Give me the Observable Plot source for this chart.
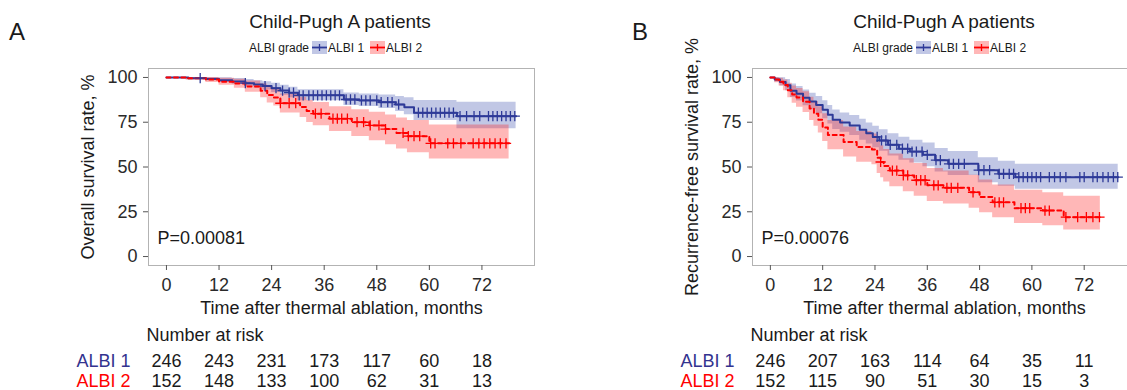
<!DOCTYPE html>
<html><head><meta charset="utf-8">
<script src="https://cdn.jsdelivr.net/npm/d3@7"></script>
<script src="https://cdn.jsdelivr.net/npm/@observablehq/plot@0.6"></script>
<style>
body{margin:0;background:#fff;overflow:hidden;}
#wrap{position:relative;width:1127px;height:390px;overflow:hidden;font-family:"Liberation Sans",Arial,sans-serif;color:#1a1a1a;background:#fff;}
.abs{position:absolute;white-space:nowrap;line-height:1;}
.leg{display:flex;align-items:center;font-size:12px;}
.leg svg{display:block;margin:0 1px 0 3px;}
</style></head><body><div id="wrap"></div>
<script>
// ---------- shared ----------
const xTicks = [0, 12, 24, 36, 48, 60, 72];
const yTicks = [0, 25, 50, 75, 100];
const groups = ["ALBI 1", "ALBI 2"];
const colors = ["#2e3a98", "#ff0000"];
const bandColors = ["#3344aa", "#ff2020"];

// ---------- Panel A: overall survival ----------
const osA1_t  = [0, 5, 9, 12, 15, 18, 20, 22, 24, 26, 28, 30, 40.5, 44, 48.5, 52.3, 54.3, 56.5, 66.3];
const osA1_s  = [100, 99.6, 99.2, 98.5, 97.8, 96.8, 96.0, 95.2, 94.0, 92.7, 91.5, 90.0, 87.7, 87.2, 86.2, 84.9, 83.4, 80.3, 78.4];
const osA1_lo = [100, 98.8, 98.2, 97.2, 96.2, 95.0, 94.0, 93.0, 91.6, 90.0, 88.6, 87.0, 84.4, 83.8, 82.6, 81.0, 79.2, 76.0, 71.3];
const osA1_hi = [100, 100, 100, 99.8, 99.4, 98.8, 98.2, 97.6, 96.8, 95.6, 94.6, 93.2, 91.3, 90.8, 90.2, 89.4, 88.6, 87.2, 86.2];
const osA1_end = 79.8;
const osA1_cens = [7.7, 18, 22.5, 25, 26.5, 28, 29, 30.3, 31.2, 32.5, 33.5, 34.5, 35.5, 36.5, 37.5, 38.5, 39.5, 41, 42, 43, 44.5, 45.5, 46.5, 48, 49, 50.5, 51.5, 53, 57.5, 58.5, 59.5, 60.5, 61.5, 62.5, 63.5, 64.5, 65.5, 67, 68.5, 70.2, 71.5, 73.5, 74.5, 75.5, 76.5, 77.5, 78.5, 79.5];

const osA2_t  = [0, 4.5, 9, 12, 15.5, 18, 21.5, 23, 24.5, 26, 30.5, 32, 33.5, 37.2, 42.3, 46.3, 50, 52.5, 55, 60];
const osA2_s  = [100, 99.5, 98.8, 97.6, 96.6, 95.0, 92.6, 90.2, 88.8, 85.6, 83.5, 81.2, 79.8, 77.0, 75.0, 73.2, 71.2, 69.0, 67.2, 63.2];
const osA2_lo = [100, 98.5, 97.2, 95.6, 94.0, 91.8, 88.6, 85.8, 84.0, 80.2, 77.6, 74.8, 73.0, 69.8, 67.0, 64.6, 62.4, 60.0, 58.0, 54.5];
const osA2_hi = [100, 100, 100, 99.6, 99.0, 98.0, 96.4, 94.6, 93.4, 90.8, 89.0, 87.2, 86.0, 83.6, 82.0, 80.6, 79.0, 77.4, 76.0, 73.5];
const osA2_end = 78.2;
const osA2_cens = [26, 28, 29.5, 34, 35.3, 38, 39, 40, 41.3, 43.5, 45, 46.5, 48.5, 50, 54, 55.2, 56.5, 57.8, 60.3, 61.3, 64.2, 65.5, 67.2, 70, 71.3, 72.5, 73.8, 75, 76.2, 77.5];

const riskA1 = [246, 243, 231, 173, 117, 60, 18];
const riskA2 = [152, 148, 133, 100, 62, 31, 13];

// ---------- Panel B: recurrence-free survival ----------
const rfsB1_t  = [0, 1, 2.2, 3.5, 4.6, 6, 7.5, 9, 10.5, 12, 13.2, 14.3, 16, 18.2, 20.5, 22, 23.5, 25, 27, 29.5, 32, 35, 37.8, 40.8, 47.7, 52.3, 56.2];
const rfsB1_s  = [100, 98.8, 97.4, 95.6, 92.6, 90.9, 88.6, 86.6, 84.6, 82.0, 79.2, 76.4, 74.8, 73.2, 70.8, 68.8, 66.8, 64.8, 62.4, 60.2, 58.6, 56.8, 53.8, 51.8, 48.2, 46.2, 44.3];
const rfsB1_lo = [100, 97.4, 95.2, 92.6, 88.8, 86.8, 84.2, 82.0, 79.8, 77.0, 74.0, 71.0, 69.4, 67.6, 65.0, 62.8, 60.8, 58.8, 56.2, 53.8, 52.2, 50.2, 47.2, 45.2, 41.2, 39.2, 37.6];
const rfsB1_hi = [100, 100, 99.8, 98.8, 96.4, 95.0, 93.0, 91.2, 89.4, 87.0, 84.4, 81.8, 80.2, 78.8, 76.6, 74.6, 72.8, 70.8, 68.6, 66.6, 65.0, 63.4, 60.4, 58.6, 55.2, 53.2, 51.6];
const rfsB1_end = 79.8;
const rfsB1_cens = [24.5, 25.5, 26.5, 27.5, 29, 30.3, 31.5, 32.5, 33.5, 34.8, 36, 38, 39, 41, 42, 43.2, 44.5, 47.8, 49, 50.3, 52.5, 53.5, 54.8, 55.8, 57, 58, 59, 60, 61, 62, 64, 65.2, 66.5, 67.8, 71, 72, 74, 75, 76.3, 77.5, 78.7, 79.7];

const rfsB2_t  = [0, 1, 2, 3, 4, 5, 6, 7.5, 9, 10, 11, 12, 13.2, 16.8, 19.8, 23.3, 24.5, 25.3, 26, 27.4, 30.5, 33, 36, 39.7, 45.6, 48, 51, 56, 62.5, 67.3];
const rfsB2_s  = [100, 98.8, 97.6, 95.8, 92.8, 90.5, 88.8, 86.4, 82.6, 79.8, 76.4, 72.0, 67.8, 64.0, 61.2, 59.8, 55.2, 52.8, 50.6, 48.0, 45.3, 42.6, 39.8, 38.4, 35.9, 33.2, 30.3, 27.0, 25.7, 22.0];
const rfsB2_lo = [100, 97.0, 95.2, 92.6, 88.6, 85.6, 83.4, 80.4, 76.0, 72.8, 69.0, 64.2, 59.6, 55.6, 52.6, 51.2, 46.4, 44.0, 41.6, 39.0, 36.2, 33.6, 30.8, 29.4, 27.0, 24.4, 21.6, 18.4, 17.2, 14.8];
const rfsB2_hi = [100, 100, 99.6, 98.6, 96.8, 95.2, 93.8, 92.0, 89.0, 86.6, 83.6, 79.8, 76.0, 72.4, 69.8, 68.4, 64.2, 61.8, 59.8, 57.2, 54.6, 52.0, 49.2, 47.8, 45.4, 42.8, 40.0, 37.0, 35.6, 33.6];
const rfsB2_end = 75.7;
const rfsB2_cens = [25.3, 28, 29, 30.5, 31.5, 33.5, 34.5, 35.5, 37.5, 38.5, 40.5, 41.5, 43, 46.5, 51.5, 52.5, 53.5, 57.5, 58.5, 59.5, 63, 64, 67.8, 70.5, 72.5, 74, 75.5];

const riskB1 = [246, 207, 163, 114, 64, 35, 11];
const riskB2 = [152, 115, 90, 51, 30, 15, 3];

// ---------- helpers ----------
function curveRows(t, s, lo, hi, end) {
  const rows = t.map((d, i) => ({t: d, s: s[i], lo: lo[i], hi: hi[i]}));
  rows.push({t: end, s: s[s.length - 1], lo: lo[lo.length - 1], hi: hi[hi.length - 1]});
  return rows;
}
function stepAt(t, s, x) { let v = s[0]; for (let i = 0; i < t.length; i++) if (t[i] <= x) v = s[i]; return v; }
function censRows(t, s, cens) { return cens.map(c => ({t: c, s: stepAt(t, s, c)})); }

const FONT = "Liberation Sans, Arial, sans-serif";
const XDOM = [-4.1, 84];

function panel(o) {
  const c1 = curveRows(...o.c1), c2 = curveRows(...o.c2);
  const r1 = o.risk1.map((n, i) => ({t: xTicks[i], n}));
  const r2 = o.risk2.map((n, i) => ({t: xTicks[i], n}));
  return Plot.plot({
    width: o.width, height: 390,
    marginLeft: o.marginLeft, marginRight: o.marginRight, marginTop: 68, marginBottom: 125,
    style: {fontFamily: FONT, background: "transparent", overflow: "visible"},
    x: {domain: XDOM},
    y: {domain: [-5, 105]},
    marks: [
      Plot.areaY(c1, {x: "t", y1: "lo", y2: "hi", curve: "step-after", fill: bandColors[0], fillOpacity: 0.3}),
      Plot.areaY(c2, {x: "t", y1: "lo", y2: "hi", curve: "step-after", fill: bandColors[1], fillOpacity: 0.32}),
      Plot.line(c1, {x: "t", y: "s", curve: "step-after", stroke: colors[0], strokeWidth: 2}),
      Plot.line(c2, {x: "t", y: "s", curve: "step-after", stroke: colors[1], strokeWidth: 2, strokeDasharray: "4,3.5"}),
      Plot.dot(o.cens1, {x: "t", y: "s", symbol: "plus", r: 3.4, stroke: colors[0], strokeWidth: 1.3}),
      Plot.dot(o.cens2, {x: "t", y: "s", symbol: "plus", r: 3.4, stroke: colors[1], strokeWidth: 1.3}),
      Plot.frame({stroke: "#b3b3b3", strokeWidth: 1}),
      Plot.axisY(yTicks, {tickSize: 5, tickPadding: 6, fontSize: 18, label: null, color: "#2a2a2a", stroke: "#555"}),
      Plot.axisX(xTicks, {tickSize: 5, tickPadding: 8, fontSize: 18, label: null, color: "#2a2a2a", stroke: "#555"}),
      Plot.text([o.ytitle], {text: d => d, frameAnchor: "left", dx: -60, rotate: -90, textAnchor: "middle", fontSize: 18, fill: "#1a1a1a"}),
      Plot.text(["Time after thermal ablation, months"], {text: d => d, frameAnchor: "bottom", dy: 48, fontSize: 18, fill: "#1a1a1a"}),
      Plot.text([o.pval], {text: d => d, frameAnchor: "bottom-left", dx: 9, dy: -22, textAnchor: "start", fontSize: 18, fill: "#1a1a1a"}),
      Plot.text(["Number at risk"], {text: d => d, frameAnchor: "bottom-left", dx: -2, dy: 75, textAnchor: "start", fontSize: 18, fill: "#1a1a1a"}),
      Plot.text([groups[0]], {text: d => d, frameAnchor: "bottom-left", dx: -18, dy: 101, textAnchor: "end", fontSize: 18, fill: "#33338f"}),
      Plot.text([groups[1]], {text: d => d, frameAnchor: "bottom-left", dx: -18, dy: 121, textAnchor: "end", fontSize: 18, fill: "#ff0000"}),
      Plot.text(r1, {x: "t", text: "n", frameAnchor: "bottom", dy: 101, fontSize: 18, fill: "#1a1a1a"}),
      Plot.text(r2, {x: "t", text: "n", frameAnchor: "bottom", dy: 121, fontSize: 18, fill: "#1a1a1a"})
    ]
  });
}

function key(i) {
  const ns = "http://www.w3.org/2000/svg";
  const s = document.createElementNS(ns, "svg");
  s.setAttribute("width", 15); s.setAttribute("height", 13);
  s.innerHTML = `<rect x="0" y="0" width="15" height="13" fill="${bandColors[i]}" fill-opacity="${i ? 0.32 : 0.3}"/>` +
    `<line x1="0" x2="15" y1="6.5" y2="6.5" stroke="${colors[i]}" stroke-width="1.8"/>` +
    `<line x1="7.5" x2="7.5" y1="3" y2="10" stroke="${colors[i]}" stroke-width="1.3"/>`;
  return s;
}

const wrap = document.getElementById("wrap");
function addAbs(el, left, top) { el.classList.add("abs"); el.style.left = left + "px"; el.style.top = top + "px"; wrap.appendChild(el); return el; }
function addText(txt, left, top, size, center) {
  const d = document.createElement("div"); d.textContent = txt; d.style.fontSize = size + "px";
  if (center) d.style.transform = "translateX(-50%)";
  return addAbs(d, left, top);
}
function legend(left, top) {
  const d = document.createElement("div"); d.className = "leg";
  const t = document.createElement("span"); t.textContent = "ALBI grade"; d.appendChild(t);
  groups.forEach((g, i) => { d.appendChild(key(i)); const s = document.createElement("span"); s.textContent = g; s.style.marginRight = "3px"; d.appendChild(s); });
  return addAbs(d, left, top);
}

// Panel A
const svgA = panel({
  width: 563, marginLeft: 148, marginRight: 29,
  c1: [osA1_t, osA1_s, osA1_lo, osA1_hi, osA1_end],
  c2: [osA2_t, osA2_s, osA2_lo, osA2_hi, osA2_end],
  cens1: censRows(osA1_t, osA1_s, osA1_cens),
  cens2: censRows(osA2_t, osA2_s, osA2_cens),
  risk1: riskA1, risk2: riskA2,
  ytitle: "Overall survival rate, %", pval: "P=0.00081"
});
addAbs(svgA, 0, 0);

// Panel B
const svgB = panel({
  width: 600, marginLeft: 189, marginRight: 27,
  c1: [rfsB1_t, rfsB1_s, rfsB1_lo, rfsB1_hi, rfsB1_end],
  c2: [rfsB2_t, rfsB2_s, rfsB2_lo, rfsB2_hi, rfsB2_end],
  cens1: censRows(rfsB1_t, rfsB1_s, rfsB1_cens),
  cens2: censRows(rfsB2_t, rfsB2_s, rfsB2_cens),
  risk1: riskB1, risk2: riskB2,
  ytitle: "Recurrence-free survival rate, %", pval: "P=0.00076"
});
addAbs(svgB, 563, 0);

// titles, panel letters, legends
addText("A", 9, 20, 24, false);
addText("B", 632, 20, 24, false);
addText("Child-Pugh A patients", 340, 12, 19, true);
addText("Child-Pugh A patients", 944, 12, 19, true);
legend(249, 41);
legend(853, 41);
</script></body></html>
